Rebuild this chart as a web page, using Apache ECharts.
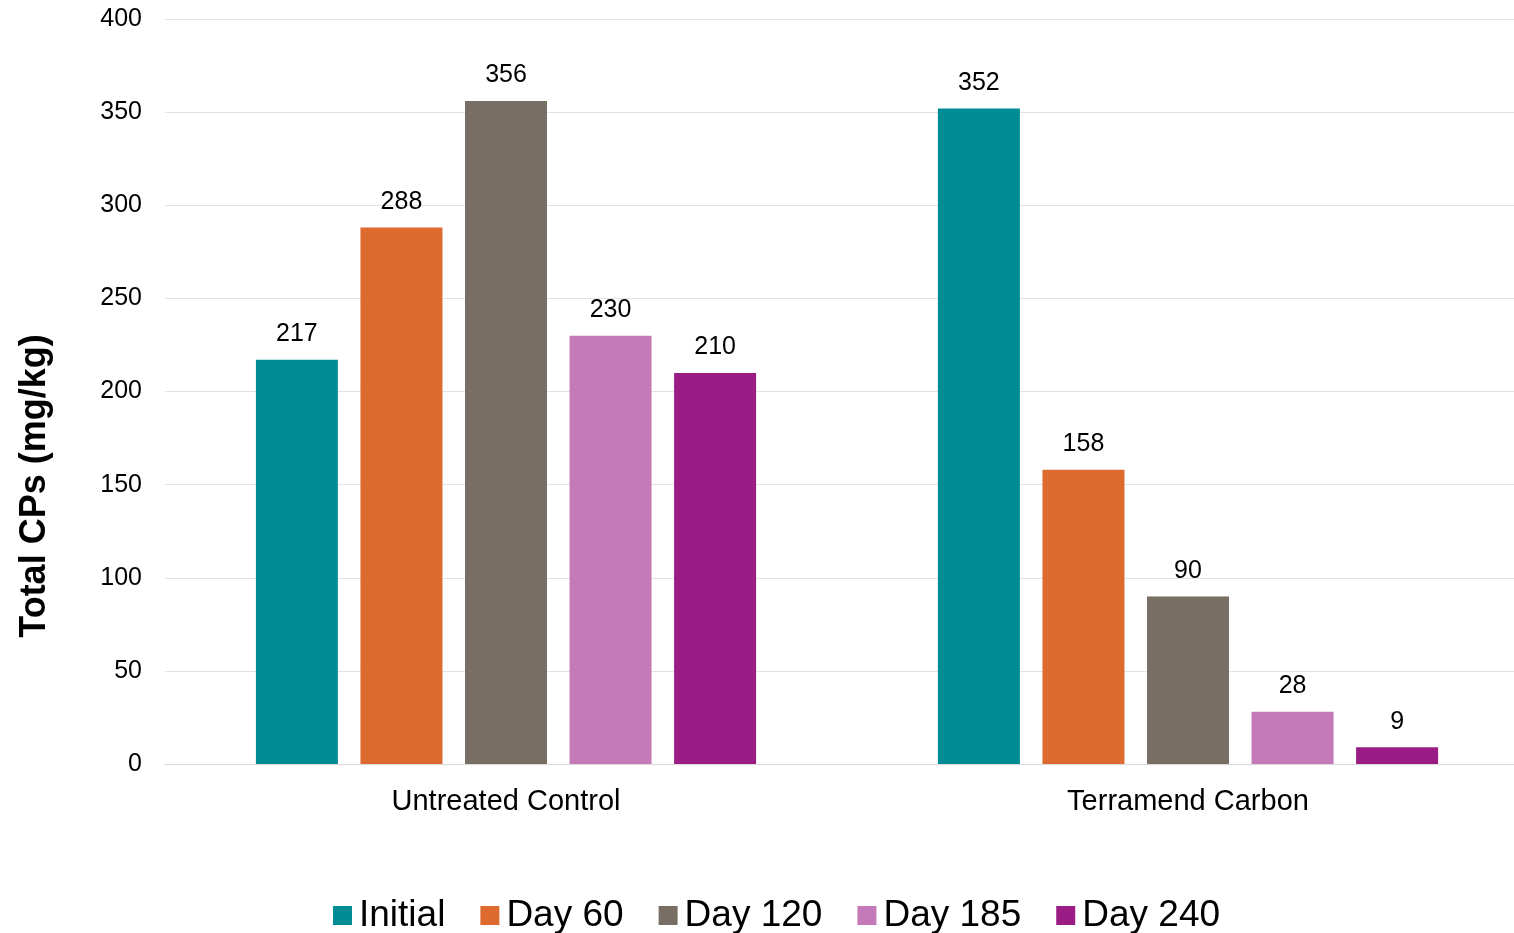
<!DOCTYPE html>
<html><head><meta charset="utf-8">
<script src="https://cdn.jsdelivr.net/npm/echarts@6/dist/echarts.min.js"></script>
<style>html,body{margin:0;padding:0;background:#fff;overflow:hidden;width:1514px;height:933px}#c{width:1530px;height:933px}</style>
</head><body><div id="c"></div>
<script>
const categories = ['Untreated Control', 'Terramend Carbon'];
const seriesNames = ['Initial', 'Day 60', 'Day 120', 'Day 185', 'Day 240'];
const initial = [217, 352];
const day60 = [288, 158];
const day120 = [356, 90];
const day185 = [230, 28];
const day240 = [210, 9];
const yTitle = 'Total CPs (mg/kg)';
const colors = ['#008C94', '#DD6B30', '#796E64', '#C47AB8', '#9B1C84'];
const values = [initial, day60, day120, day185, day240];
const font = 'Liberation Sans, Arial, sans-serif';

const chart = echarts.init(document.getElementById('c'));
chart.setOption({
  animation: false,
  textStyle: { fontFamily: font },
  grid: { left: 165, right: 1, top: 19, bottom: 169, containLabel: false },
  legend: {
    top: 892, left: 328,
    itemWidth: 19, itemHeight: 19, itemGap: 35,
    icon: 'rect',
    textStyle: { fontSize: 37, color: '#000', fontFamily: font, padding: [0, 0, 0, 2] },
    data: seriesNames
  },
  graphic: [{
    type: 'text', x: 35, y: 486, rotation: Math.PI / 2,
    style: { text: yTitle, fontSize: 36, fontWeight: 'bold', fontFamily: font, fill: '#000', align: 'center', verticalAlign: 'middle' }
  }],
  xAxis: {
    type: 'category', data: categories,
    axisLine: { lineStyle: { color: '#D9D9D9' } },
    axisTick: { show: false },
    axisLabel: { fontSize: 29, color: '#000', margin: 23, fontFamily: font }
  },
  yAxis: {
    type: 'value', min: 0, max: 400, interval: 50,
    axisLine: { show: false }, axisTick: { show: false },
    axisLabel: { fontSize: 25, color: '#000', margin: 23, fontFamily: font },
    splitLine: { lineStyle: { color: '#E3E3E3' } }
  },
  series: seriesNames.map((n, i) => ({
    name: n, type: 'bar', data: values[i],
    barWidth: 82, barGap: '27.5%',
    itemStyle: { color: colors[i] },
    label: { show: true, position: 'top', distance: 13, fontSize: 25, color: '#000', fontFamily: font }
  }))
});
</script></body></html>
